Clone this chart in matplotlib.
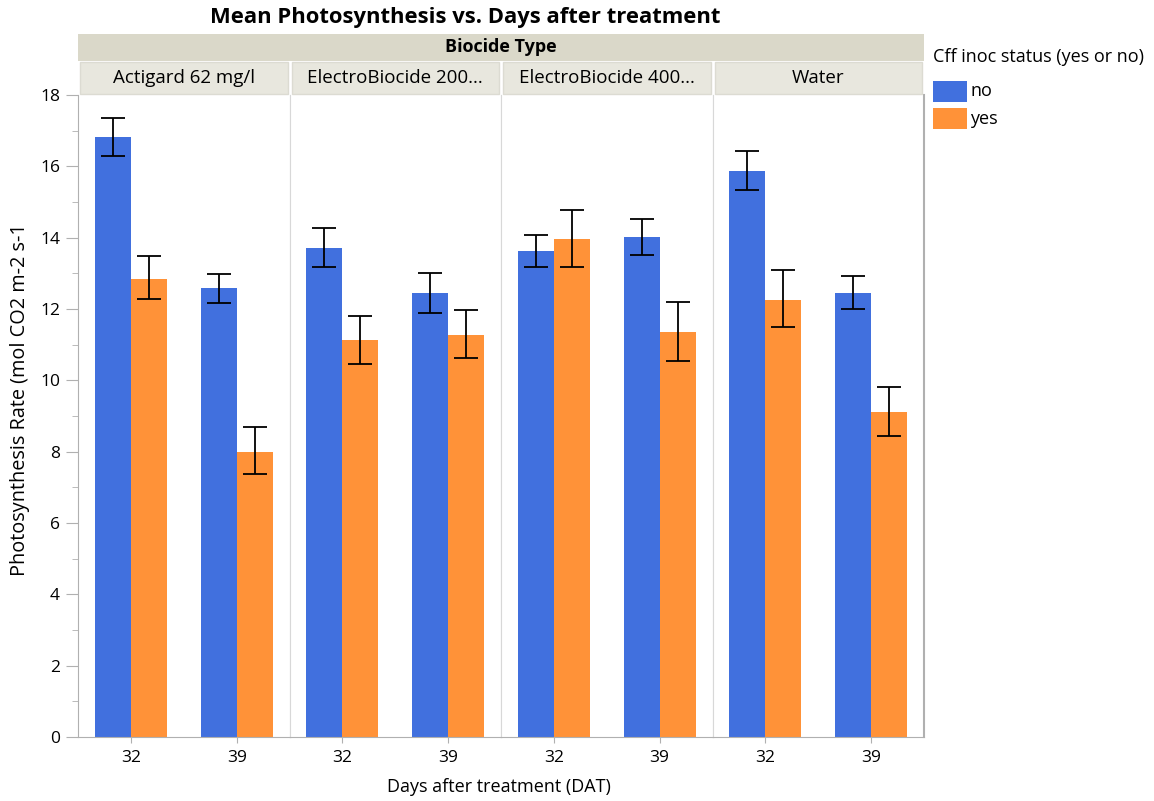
import numpy as np
import matplotlib
matplotlib.use('Agg')
import matplotlib.pyplot as plt
from matplotlib.patches import Rectangle

plt.rcParams['font.family'] = ['Open Sans', 'DejaVu Sans']

# data
biocides = ['Actigard 62 mg/l', 'ElectroBiocide 200...', 'ElectroBiocide 400...', 'Water']
days = ['32', '39']
groups = ['no', 'yes']

mean_no = [[16.82, 12.59], [13.71, 12.45], [13.63, 14.02], [15.87, 12.45]]
mean_yes = [[12.84, 7.99], [11.13, 11.27], [13.96, 11.35], [12.25, 9.11]]
upper_no = [[17.35, 12.99], [14.27, 13.01], [14.08, 14.53], [16.43, 12.92]]
lower_no = [[16.29, 12.17], [13.17, 11.88], [13.17, 13.52], [15.34, 12.00]]
upper_yes = [[13.48, 8.69], [11.81, 11.96], [14.78, 12.21], [13.08, 9.81]]
lower_yes = [[12.27, 7.37], [10.45, 10.63], [13.19, 10.55], [11.49, 8.44]]

col_no = '#4170de'
col_yes = '#ff9238'
strip_top = '#dad8c9'
strip_sub = '#e8e7de'
frame = '#b0b0b0'

W, H = 1154, 801
fig = plt.figure(figsize=(W / 100, H / 100), dpi=100)

x0, x1 = 78, 924
yb, yt = 737, 95
pw = (x1 - x0) / 4
width = 0.34

for i, name in enumerate(biocides):
    left = (x0 + i * pw) / W
    ax = fig.add_axes([left, 1 - yb / H, pw / W, (yb - yt) / H])
    x = np.arange(len(days))
    series = [(mean_no, lower_no, upper_no, col_no, -width / 2),
              (mean_yes, lower_yes, upper_yes, col_yes, width / 2)]
    for mean, lo, hi, c, off in series:
        m = np.array(mean[i])
        err = np.array([m - np.array(lo[i]), np.array(hi[i]) - m])
        ax.bar(x + off, m, width=width, color=c, zorder=2)
        ax.errorbar(x + off, m, yerr=err, fmt='none', ecolor='black',
                    elinewidth=1.3, capsize=8.5, capthick=1.3, zorder=3)
    ax.set_xlim(-0.5, 1.5)
    ax.set_ylim(0, 18)
    ax.set_xticks(x)
    ax.set_xticklabels(days, fontsize=12.5)
    ax.tick_params(axis='x', length=4, color=frame, pad=5)
    ax.spines['top'].set_visible(False)
    ax.spines['bottom'].set_color(frame)
    ax.spines['left'].set_color('#d8d8d8')
    ax.spines['right'].set_color('#d8d8d8')
    if i == 0:
        ax.spines['left'].set_color(frame)
        ax.set_yticks(np.arange(0, 19, 2))
        ax.set_yticks(np.arange(1, 18, 2), minor=True)
        ax.tick_params(axis='y', which='major', length=9, color=frame, labelsize=12.5, pad=4)
        ax.tick_params(axis='y', which='minor', length=4, color=frame)
        ax.set_ylabel('Photosynthesis Rate (mol CO2 m-2 s-1', fontsize=14.3)
        ax.yaxis.set_label_coords(-48 / pw, 0.526)
    else:
        ax.set_yticks([])
    if i == 3:
        ax.spines['right'].set_color(frame)
        ax.spines['right'].set_linewidth(1.5)

    # sub strip
    sx = (x0 + i * pw + 2) / W
    fig.patches.append(Rectangle((sx, 1 - 94 / H), (pw - 4) / W, 32 / H,
                                 transform=fig.transFigure, facecolor=strip_sub,
                                 edgecolor='#dcdbd2', linewidth=1))
    fig.text((x0 + (i + 0.5) * pw) / W, 1 - 78 / H, name, ha='center', va='center',
             fontsize=13.5)

# top strip
fig.patches.append(Rectangle((x0 / W, 1 - 61 / H), (x1 - x0) / W, 27 / H,
                             transform=fig.transFigure, facecolor=strip_top,
                             edgecolor='none'))
fig.text((x0 + x1) / 2 / W, 1 - 47 / H, 'Biocide Type', ha='center', va='center',
         fontsize=13, fontweight='bold')

fig.text(465 / W, 1 - 17 / H, 'Mean Photosynthesis vs. Days after treatment',
         ha='center', va='center', fontsize=15.8, fontweight='bold')
fig.text(499 / W, 1 - 787 / H, 'Days after treatment (DAT)', ha='center',
         va='center', fontsize=13)

# legend
fig.text(933 / W, 1 - 57 / H, 'Cff inoc status (yes or no)', ha='left',
         va='center', fontsize=13)
for k, (g, c) in enumerate(zip(groups, [col_no, col_yes])):
    top = 81 + k * 27
    fig.patches.append(Rectangle((933 / W, 1 - (top + 21) / H), 34 / W, 21 / H,
                                 transform=fig.transFigure, facecolor=c,
                                 edgecolor='none'))
    fig.text(970 / W, 1 - (top + 10.5) / H, g, ha='left', va='center',
             fontsize=13)

fig.savefig('out.png', dpi=100)
